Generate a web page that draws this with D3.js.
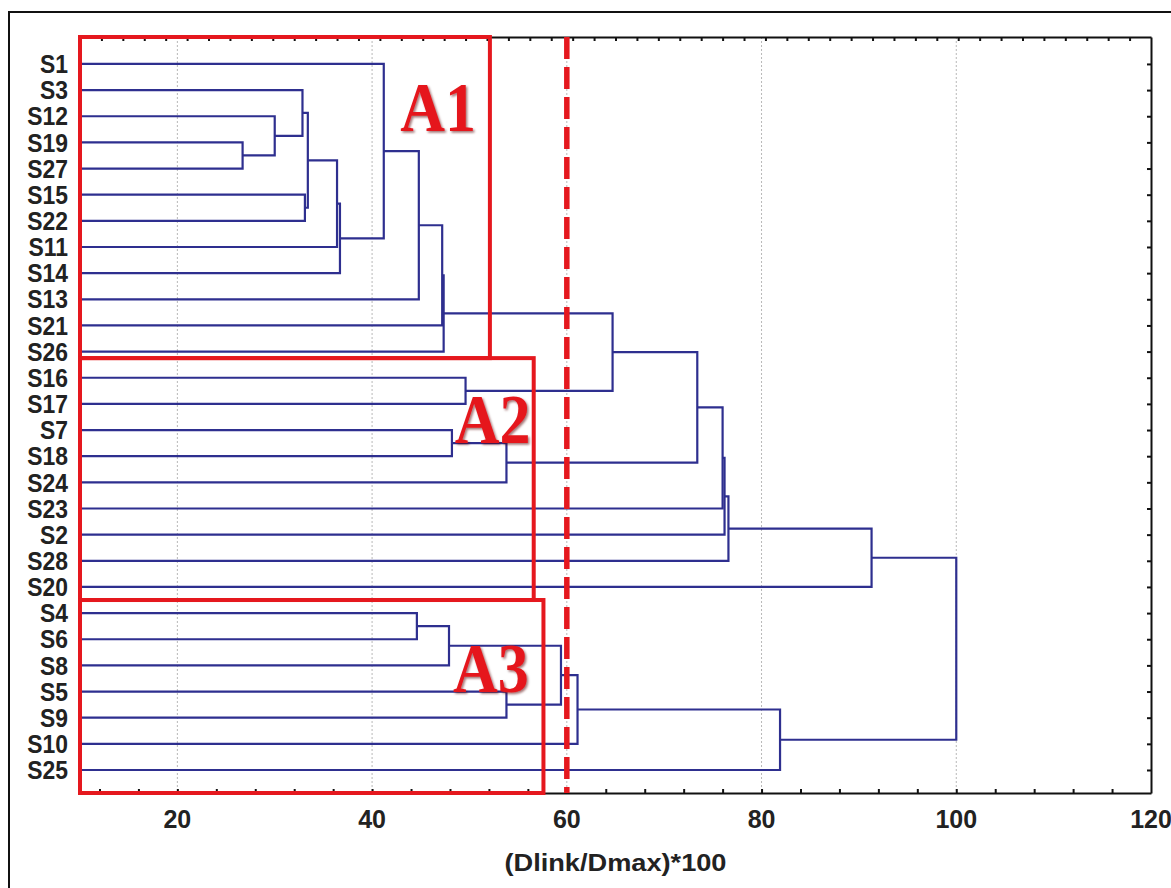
<!DOCTYPE html>
<html>
<head>
<meta charset="utf-8">
<script src="https://cdn.jsdelivr.net/npm/d3@7/dist/d3.min.js"></script>
<style>
  body { margin: 0; background: #fff; }
  svg { display: block; }
</style>
</head>
<body>
<div id="chart"></div>
<script>
// leaf order, top to bottom
const leaves = ["S1", "S3", "S12", "S19", "S27", "S15", "S22", "S11", "S14", "S13", "S21", "S26",
  "S16", "S17", "S7", "S18", "S24", "S23", "S2", "S28", "S20",
  "S4", "S6", "S8", "S5", "S9", "S10", "S25"];

// merges: [child, child, linkage distance]; "m3" means merge number 3
const merges = [
  ["S19", "S27", 26.7],  // m0
  ["S12", "m0", 30.0],   // m1
  ["S3", "m1", 32.85],   // m2
  ["S15", "S22", 33.1],  // m3
  ["m2", "m3", 33.4],    // m4
  ["m4", "S11", 36.4],   // m5
  ["m5", "S14", 36.7],   // m6
  ["S1", "m6", 41.2],    // m7
  ["m7", "S13", 44.8],   // m8
  ["m8", "S21", 47.2],   // m9
  ["m9", "S26", 47.35],  // m10
  ["S16", "S17", 49.6],  // m11
  ["m10", "m11", 64.7],  // m12
  ["S7", "S18", 48.2],   // m13
  ["m13", "S24", 53.8],  // m14
  ["m12", "m14", 73.4],  // m15
  ["m15", "S23", 76.0],  // m16
  ["m16", "S2", 76.2],   // m17
  ["m17", "S28", 76.6],  // m18
  ["m18", "S20", 91.3],  // m19
  ["S4", "S6", 44.6],    // m20
  ["m20", "S8", 47.9],   // m21
  ["S5", "S9", 53.8],    // m22
  ["m21", "m22", 59.4],  // m23
  ["m23", "S10", 61.1],  // m24
  ["m24", "S25", 81.9],  // m25
  ["m19", "m25", 100]    // m26
];

const xTickLabels = [20, 40, 60, 80, 100, 120];
const gridValues = [20, 40, 60, 80, 100];
const cutoff = 60;

// cluster boxes (A1..A3): right edge in distance units, top/bottom in leaf-index units
const groups = ["A1", "A2", "A3"];
const groupRight = [52.1, 56.6, 57.6];
const groupTop = [-1.03, 11.25, 20.5];
const groupBottom = [11.25, 20.5, 27.88];
const groupLabelX = [42.9, 48.5, 48.3];
const groupLabelY = [2.55, 14.48, 24.03];

const width = 1171, height = 888;
const plot = { left: 80, right: 1151, top: 37, bottom: 793 };

const svg = d3.select("#chart").append("svg")
  .attr("width", width)
  .attr("height", height);

svg.append("rect").attr("width", width).attr("height", height).attr("fill", "#fff");

const defs = svg.append("defs");
defs.append("filter").attr("id", "shadow")
  .attr("x", "-10%").attr("y", "-10%").attr("width", "130%").attr("height", "130%")
  .append("feDropShadow")
  .attr("dx", 1.5).attr("dy", 1.5).attr("stdDeviation", 1)
  .attr("flood-color", "#500").attr("flood-opacity", 0.55);

const x = d3.scaleLinear().domain([10, 120]).range([plot.left, plot.right]);
const y = d3.scaleLinear().domain([-1.03, 27.88]).range([plot.top, plot.bottom]);

// outer frame of the figure
svg.append("rect")
  .attr("x", 9).attr("y", 12)
  .attr("width", 1300).attr("height", 1000)
  .attr("fill", "none").attr("stroke", "#111").attr("stroke-width", 2);

// grid lines
svg.append("g").selectAll("line")
  .data(gridValues)
  .join("line")
  .attr("x1", d => x(d)).attr("x2", d => x(d))
  .attr("y1", plot.top).attr("y2", plot.bottom)
  .attr("stroke", "#b8b8b8")
  .attr("stroke-width", 1)
  .attr("stroke-dasharray", "2,2");

// work out node positions
const pos = {};
leaves.forEach((s, i) => { pos[s] = { y: i, h: 10 }; });
merges.forEach((m, i) => {
  const a = pos[m[0]], b = pos[m[1]];
  pos["m" + i] = { y: (a.y + b.y) / 2, h: m[2] };
});

// dendrogram links
svg.append("g").selectAll("path")
  .data(merges)
  .join("path")
  .attr("d", m => {
    const a = pos[m[0]], b = pos[m[1]];
    return "M" + x(a.h) + "," + y(a.y) + "H" + x(m[2]) + "V" + y(b.y) + "H" + x(b.h);
  })
  .attr("fill", "none")
  .attr("stroke", "#2e2f8f")
  .attr("stroke-width", 2.2);

// axes (ticks point inward)
const axisStyle = g => {
  g.select(".domain").attr("stroke", "#111").attr("stroke-width", 2);
  g.selectAll(".tick line").attr("stroke", "#111").attr("stroke-width", 2);
};

svg.append("g")
  .attr("transform", "translate(0," + plot.bottom + ")")
  .call(d3.axisBottom(x).tickValues(d3.range(12, 120, 4)).tickSize(-4).tickSizeOuter(0).tickFormat(""))
  .call(axisStyle);

svg.append("g")
  .attr("transform", "translate(0," + plot.top + ")")
  .call(d3.axisTop(x).tickValues(d3.range(0, 50).map(k => 10 + 2.2 * k)).tickSize(-4).tickSizeOuter(0).tickFormat(""))
  .call(axisStyle);

svg.append("g")
  .attr("transform", "translate(" + plot.right + ",0)")
  .call(d3.axisRight(y).tickValues(d3.range(leaves.length)).tickSize(-4).tickSizeOuter(0).tickFormat(""))
  .call(axisStyle);

svg.append("g")
  .attr("transform", "translate(" + plot.left + ",0)")
  .call(d3.axisLeft(y).tickValues([]).tickSizeOuter(0))
  .call(axisStyle);

// x tick labels
svg.append("g").selectAll("text")
  .data(xTickLabels)
  .join("text")
  .attr("x", d => x(d))
  .attr("y", 828)
  .attr("text-anchor", "middle")
  .attr("font-family", "'Liberation Sans', Arial, sans-serif")
  .attr("font-weight", "bold")
  .attr("font-size", 25)
  .attr("fill", "#222")
  .text(d => d);

// x axis title
svg.append("text")
  .attr("x", (plot.left + plot.right) / 2)
  .attr("y", 871)
  .attr("text-anchor", "middle")
  .attr("font-family", "'Liberation Sans', Arial, sans-serif")
  .attr("font-weight", "bold")
  .attr("font-size", 23)
  .attr("textLength", 222)
  .attr("lengthAdjust", "spacingAndGlyphs")
  .attr("fill", "#222")
  .text("(Dlink/Dmax)*100");

// leaf labels (bold, slightly condensed)
svg.append("g").selectAll("text")
  .data(leaves)
  .join("text")
  .attr("transform", (d, i) => "translate(68," + (y(i) + 9.2) + ") scale(0.88,1)")
  .attr("text-anchor", "end")
  .attr("font-family", "'Liberation Sans', Arial, sans-serif")
  .attr("font-weight", "bold")
  .attr("font-size", 26)
  .attr("fill", "#222")
  .text(d => d);

// cluster boxes
svg.append("g").selectAll("rect")
  .data(groups)
  .join("rect")
  .attr("x", x(10))
  .attr("y", (d, i) => y(groupTop[i]))
  .attr("width", (d, i) => x(groupRight[i]) - x(10))
  .attr("height", (d, i) => y(groupBottom[i]) - y(groupTop[i]))
  .attr("fill", "none")
  .attr("stroke", "#e5181e")
  .attr("stroke-width", 4);

// cut-off line
svg.append("line")
  .attr("x1", x(cutoff)).attr("x2", x(cutoff))
  .attr("y1", plot.top).attr("y2", plot.bottom)
  .attr("stroke", "#e5181e")
  .attr("stroke-width", 5.5)
  .attr("stroke-dasharray", "22,8");

// cluster labels
svg.append("g").selectAll("text")
  .data(groups)
  .join("text")
  .attr("transform", (d, i) => "translate(" + x(groupLabelX[i]) + "," + y(groupLabelY[i]) + ") scale(1,1.13)")
  .attr("font-family", "'Liberation Serif', 'Times New Roman', serif")
  .attr("font-weight", "bold")
  .attr("font-size", 62)
  .attr("fill", "#e5181e")
  .attr("filter", "url(#shadow)")
  .text(d => d);
</script>
</body>
</html>
